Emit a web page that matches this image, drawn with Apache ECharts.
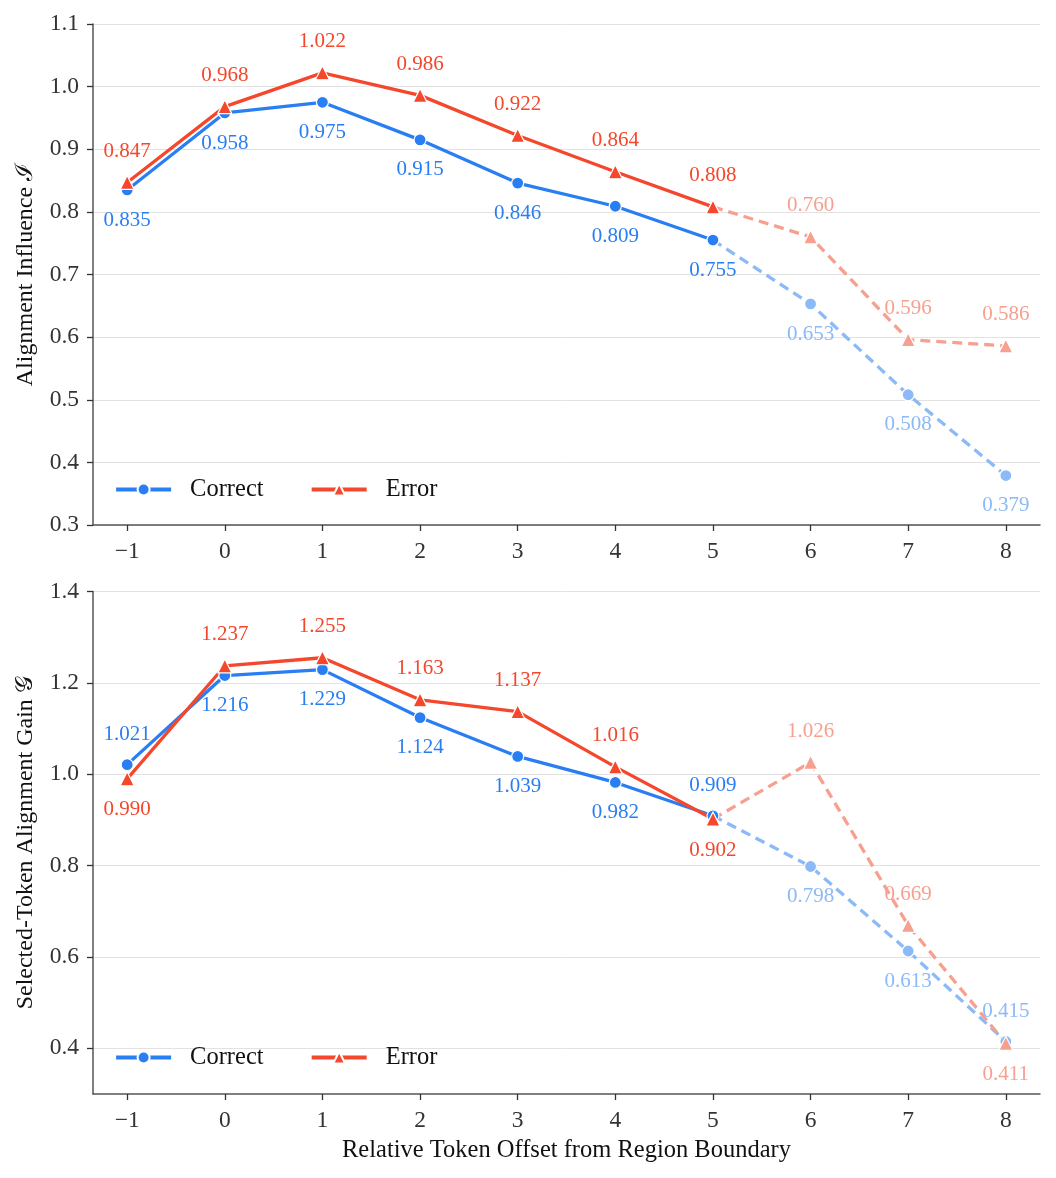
<!DOCTYPE html>
<html>
<head>
<meta charset="utf-8">
<script src="https://cdn.jsdelivr.net/npm/echarts@6/dist/echarts.min.js"></script>
<style>html,body{margin:0;padding:0;background:#fff;}#c{width:1056px;height:1178px;}</style>
</head>
<body>
<div id="c"></div>
<script>
const offsets = [-1, 0, 1, 2, 3, 4, 5, 6, 7, 8];
const xTicks = [-1, 0, 1, 2, 3, 4, 5, 6, 7, 8];
const influenceCorrect = [0.835, 0.958, 0.975, 0.915, 0.846, 0.809, 0.755, 0.653, 0.508, 0.379];
const influenceError   = [0.847, 0.968, 1.022, 0.986, 0.922, 0.864, 0.808, 0.760, 0.596, 0.586];
const gainCorrect = [1.021, 1.216, 1.229, 1.124, 1.039, 0.982, 0.909, 0.798, 0.613, 0.415];
const gainError   = [0.990, 1.237, 1.255, 1.163, 1.137, 1.016, 0.902, 1.026, 0.669, 0.411];
const yTicksTop = [0.3, 0.4, 0.5, 0.6, 0.7, 0.8, 0.9, 1.0, 1.1];
const yTicksBottom = [0.4, 0.6, 0.8, 1.0, 1.2, 1.4];
const boundaryIndex = 6; // offset 5: last observed point, dashed beyond

const FONT = "'Liberation Serif', 'DejaVu Serif', serif";
const BLUE = '#2a7ef3', RED = '#f4472c';
const BLUE_F = '#8cb9f7', RED_F = '#f7a08f';

function makeSeries(name, values, other, color, faded, symbol, symbolSize, gi) {
  const pos = (i) => values[i] >= other[i] ? 'top' : 'bottom';
  const lbl = (i, c) => ({show: true, position: pos(i), distance: 13, color: c,
    fontFamily: FONT, fontSize: 21, formatter: (p) => values[i].toFixed(3)});
  const solid = [];
  const dashed = [];
  for (let i = 0; i < offsets.length; i++) {
    if (i <= boundaryIndex) solid.push({value: [offsets[i], values[i]], label: lbl(i, color)});
    if (i >= boundaryIndex) {
      if (i === boundaryIndex) dashed.push({value: [offsets[i], values[i]], symbol: 'none', label: {show: false}});
      else dashed.push({value: [offsets[i], values[i]], label: lbl(i, faded)});
    }
  }
  const common = {type: 'line', xAxisIndex: gi, yAxisIndex: gi, symbol: symbol, symbolSize: symbolSize,
    animation: false};
  return [
    Object.assign({}, common, {name: name + ' (extrapolated)', data: dashed, z: 2,
      lineStyle: {color: faded, width: 3.3, type: [10, 6]},
      itemStyle: {color: faded, borderColor: '#fff', borderWidth: 1.2}}),
    Object.assign({}, common, {name: name, data: solid, z: 3,
      lineStyle: {color: color, width: 3.3},
      itemStyle: {color: color, borderColor: '#fff', borderWidth: 1.2}})
  ];
}

function xAxis(gi, withName) {
  return {type: 'value', gridIndex: gi, min: -1.35, max: 8.35,
    name: withName ? 'Relative Token Offset from Region Boundary' : '',
    nameLocation: 'middle', nameGap: 44,
    nameTextStyle: {fontFamily: FONT, fontSize: 24.5, color: '#111'},
    axisLine: {show: true, onZero: false, lineStyle: {color: '#555', width: 1.5}},
    axisTick: {show: true, customValues: xTicks, length: 6, lineStyle: {color: '#333', width: 1.3}},
    axisLabel: {customValues: xTicks, fontFamily: FONT, fontSize: 23.5, color: '#333', margin: 15,
      formatter: (v) => String(v).replace('-', '\u2212')},
    splitLine: {show: false}};
}

function yAxis(gi, name, min, max, ticks) {
  return {type: 'value', gridIndex: gi, min: min, max: max,
    name: name, nameLocation: 'middle', nameGap: 55,
    nameTextStyle: {fontFamily: FONT, fontSize: 24, color: '#111'},
    axisLine: {show: true, onZero: false, lineStyle: {color: '#555', width: 1.5}},
    axisTick: {show: true, customValues: ticks, length: 6, lineStyle: {color: '#333', width: 1.3}},
    axisLabel: {customValues: ticks, fontFamily: FONT, fontSize: 23.5, color: '#333', margin: 14,
      formatter: (v) => v.toFixed(1)},
    splitLine: {show: true, lineStyle: {color: '#e2e2e2', width: 1}}};
}

function legend(top) {
  return {left: 114, top: top, padding: 0, itemWidth: 55, itemHeight: 15, itemGap: 46,
    data: ['Correct', 'Error'],
    lineStyle: {width: 4.2},
    textStyle: {fontFamily: FONT, fontSize: 24.5, color: '#111', padding: [0, 0, 0, 14]}};
}

const series = [].concat(
  makeSeries('Correct', influenceCorrect, influenceError, BLUE, BLUE_F, 'circle', 12, 0),
  makeSeries('Error', influenceError, influenceCorrect, RED, RED_F, 'triangle', 14, 0),
  makeSeries('Correct', gainCorrect, gainError, BLUE, BLUE_F, 'circle', 12, 1),
  makeSeries('Error', gainError, gainCorrect, RED, RED_F, 'triangle', 14, 1)
);

const chart = echarts.init(document.getElementById('c'), null, {renderer: 'canvas'});
chart.setOption({
  backgroundColor: '#fff',
  animation: false,
  grid: [
    {left: 93, right: 16, top: 24, height: 501},
    {left: 93, right: 16, top: 591.5, height: 502.5}
  ],
  xAxis: [xAxis(0, false), xAxis(1, true)],
  yAxis: [
    yAxis(0, 'Alignment Influence \u2110', 0.3, 1.1, yTicksTop),
    yAxis(1, 'Selected-Token Alignment Gain \uD835\uDCA2', 0.3, 1.4, yTicksBottom)
  ],
  legend: [legend(477), legend(1045)],
  series: series
});
</script>
</body>
</html>
